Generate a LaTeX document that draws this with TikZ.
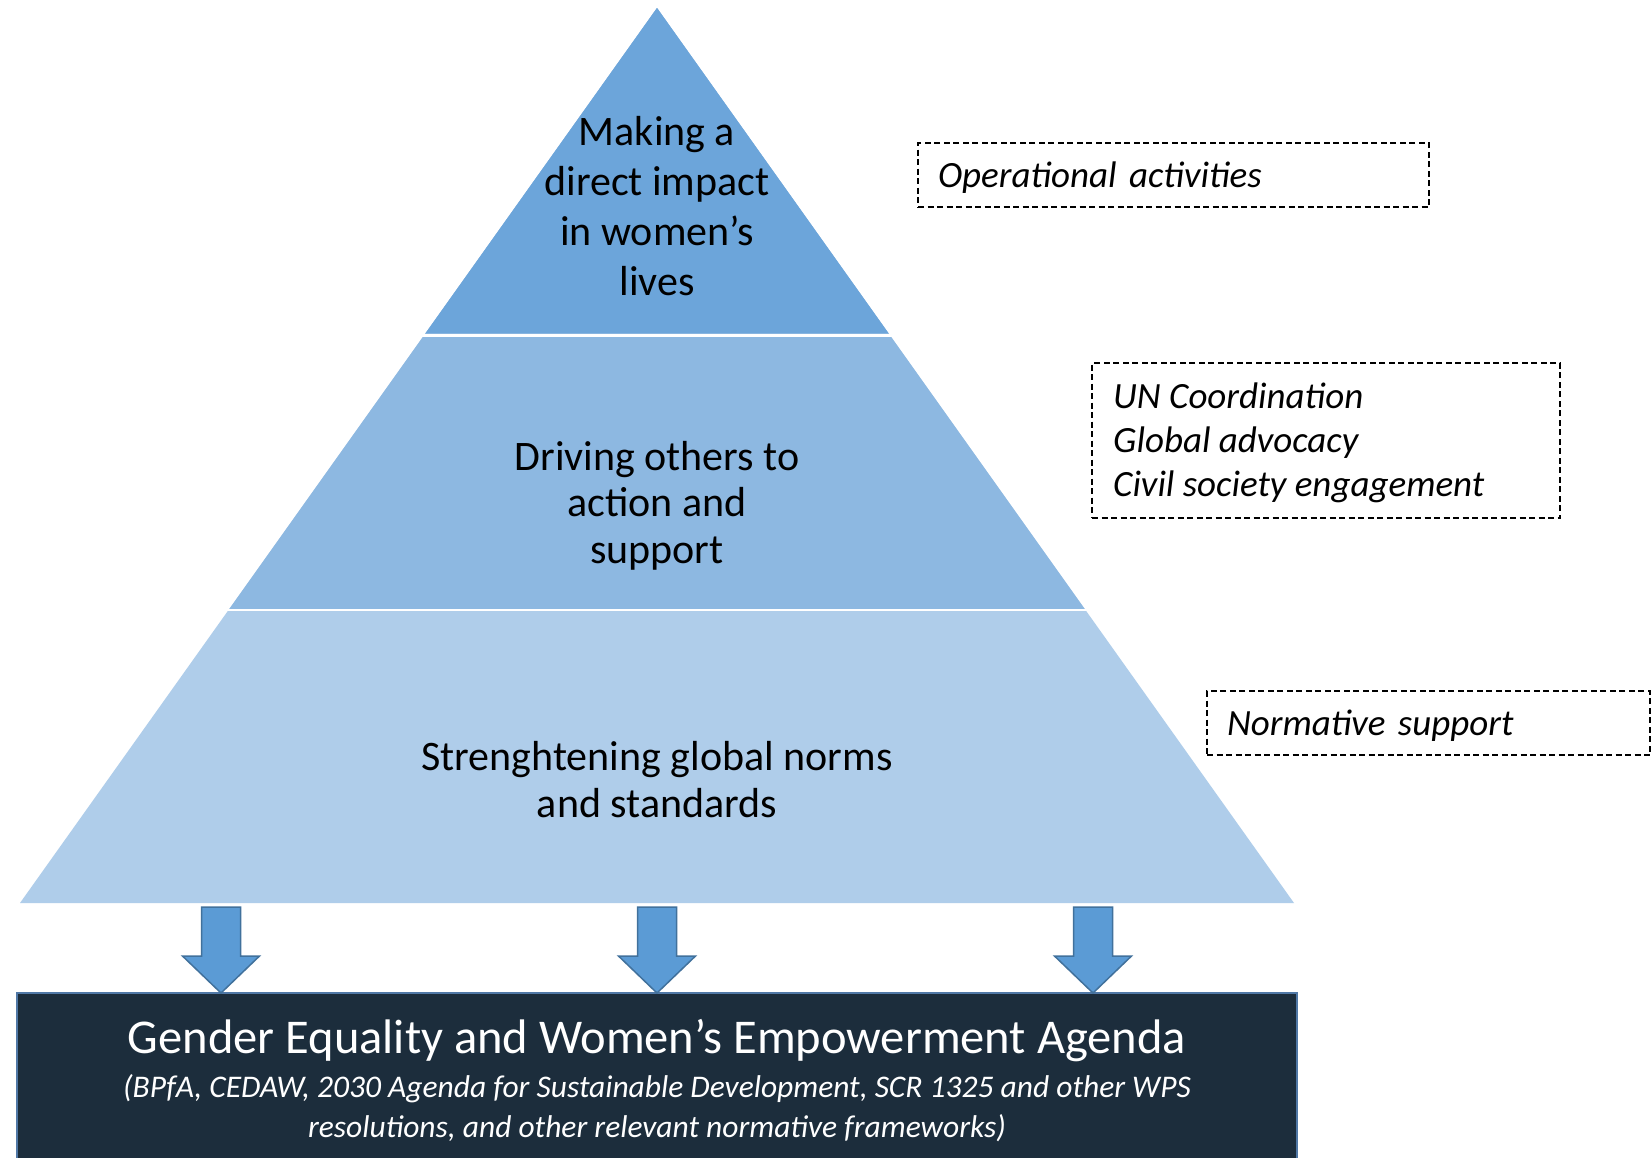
\documentclass[tikz,border=0pt]{standalone}
\usepackage{fontspec}
\setmainfont{Carlito}
\definecolor{tiertop}{HTML}{6CA5DA}
\definecolor{tiermid}{HTML}{8DB8E1}
\definecolor{tierlow}{HTML}{AFCDEA}
\definecolor{arrowfill}{HTML}{5B9BD5}
\definecolor{arrowline}{HTML}{41719C}
\definecolor{agendafill}{HTML}{1C2D3C}
\definecolor{agendaline}{HTML}{5078A6}
\begin{document}
\begin{tikzpicture}[x=1pt,y=-1pt,
  tiertext/.style={align=center, inner sep=0pt, anchor=base, text=black},
  notefont/.style={font=\fontsize{37}{44}\itshape\selectfont},
  notebox/.style={draw=black, line width=1.6pt, dash pattern=on 6pt off 3.5pt,
    align=left, inner xsep=20pt, inner ysep=0pt, anchor=center, notefont},
  agendabox/.style={draw=agendaline, line width=2.5pt, fill=agendafill,
    minimum width=1280pt, minimum height=220pt, inner sep=0pt},
  blockarrow/.pic={
    \filldraw[fill=arrowfill, draw=arrowline, line width=1.5pt, line join=miter]
      (-19.5,0) -- (19.5,0) -- (19.5,49) -- (38.5,49) -- (0,86) --
      (-38.5,49) -- (-19.5,49) -- cycle;}
]
\clip (0,0) rectangle (1652,1157);
\fill[white] (0,0) rectangle (1652,1157);

% pyramid: three stacked tiers separated by thin white bands
\coordinate (apex) at (657,8);
\fill[tierlow] (apex) -- (1294,903) -- (20,903) -- cycle;
\fill[tiermid] (apex) -- (1084.7,609) -- (229.3,609) -- cycle;
\fill[tiertop] (apex) -- (888.3,333) -- (425.7,333) -- cycle;
\draw[white, line width=3pt] (380,335) -- (935,335);
\draw[white, line width=2.5pt] (190,610) -- (1125,610);

% tier captions (anchored on the baseline of their last line)
\node[tiertext, font=\fontsize{42}{50}\selectfont] (top) at (657,295)
  {Making a\\direct impact\\in women’s\\lives};
\node[tiertext, font=\fontsize{42}{46.5}\selectfont] (mid) at (657,563)
  {Driving others to\\action and\\support};
\node[tiertext, font=\fontsize{42}{47}\selectfont] (low) at (657,817)
  {Strenghtening global norms\\and standards};

% side notes
\node[notebox, minimum width=511pt, minimum height=64pt, text width=471pt,
  text height=28pt, text depth=4pt] (opnote)
  at (1173.5,175) {Operational activities};
\node[notebox, minimum width=468pt, minimum height=155pt] (coordnote)
  at (1326,440.5) {};
\node[notefont, align=left, inner sep=0pt, anchor=base west] (coordtext)
  at (1113,496) {UN Coordination\\Global advocacy\\Civil society engagement};
\node[notebox, minimum width=443pt, minimum height=64pt, text width=403pt,
  text height=28pt, text depth=4pt] (normnote)
  at (1428.5,723) {Normative support};

% agenda box at the foot of the pyramid
\node[agendabox] (agenda) at (657,1103) {};
\node[text=white, inner sep=0pt, anchor=base, font=\fontsize{48.5}{58}\selectfont]
  (agendatitle) at (657,1053) {Gender Equality and Women’s Empowerment Agenda};
\node[text=white, inner sep=0pt, anchor=base, align=center,
  font=\fontsize{31.5}{40}\itshape\selectfont] (agendasub) at (657,1137)
  {(BPfA, CEDAW, 2030 Agenda for Sustainable Development, SCR 1325 and other WPS\\
   resolutions, and other relevant normative frameworks)};

% arrows from the base of the pyramid into the agenda box
\pic at (221,907) {blockarrow};
\pic at (657,907) {blockarrow};
\pic at (1093,907) {blockarrow};
\end{tikzpicture}
\end{document}
